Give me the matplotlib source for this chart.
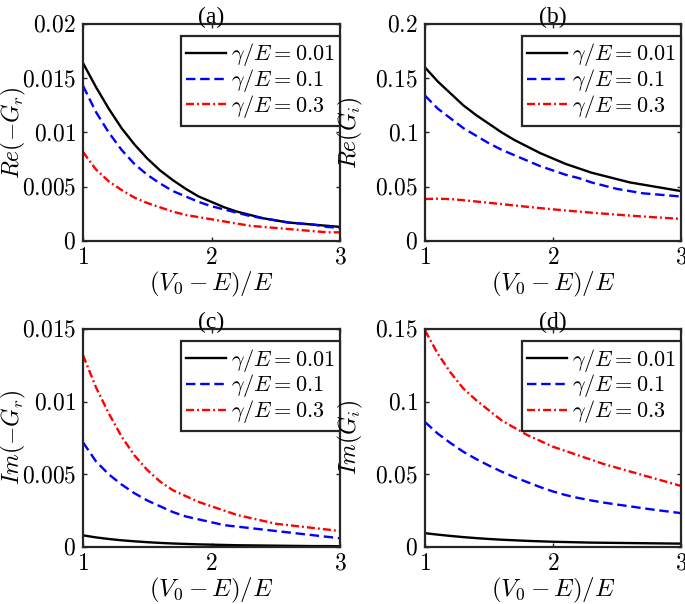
import numpy as np
import matplotlib
matplotlib.use("Agg")
import matplotlib.pyplot as plt

plt.rcParams['mathtext.fontset'] = 'cm'
plt.rcParams['font.family'] = 'Liberation Serif'

# x values: (V0 - E)/E
x = [1.0, 1.1, 1.2, 1.3, 1.4, 1.5, 1.6, 1.7, 1.8, 1.9, 2.0,
     2.1, 2.2, 2.3, 2.4, 2.5, 2.6, 2.7, 2.8, 2.9, 3.0]

labels = [r'$\gamma/E=0.01$', r'$\gamma/E=0.1$', r'$\gamma/E=0.3$']

# (a) Re(-G_r)
a_001 = [0.0164, 0.0142, 0.0122, 0.0104, 0.0089, 0.0076, 0.0065, 0.0056, 0.0048, 0.0041, 0.0036,
         0.0031, 0.0027, 0.0024, 0.0021, 0.0019, 0.0017, 0.0016, 0.0015, 0.0014, 0.0013]
a_01 = [0.0143, 0.0119, 0.0100, 0.0084, 0.0071, 0.0061, 0.0053, 0.0046, 0.0041, 0.0036, 0.0032,
        0.0029, 0.0026, 0.0023, 0.0021, 0.0019, 0.0017, 0.0016, 0.0015, 0.0013, 0.0012]
a_03 = [0.0082, 0.0066, 0.0055, 0.0047, 0.0040, 0.0035, 0.0031, 0.0027, 0.0024, 0.0022, 0.0020,
        0.0018, 0.0016, 0.0014, 0.0013, 0.0012, 0.0011, 0.0010, 0.0009, 0.0008, 0.0008]

# (b) Re(G_i)
b_001 = [0.160, 0.147, 0.136, 0.125, 0.116, 0.108, 0.100, 0.093, 0.087, 0.081, 0.076,
         0.071, 0.067, 0.063, 0.060, 0.057, 0.054, 0.052, 0.050, 0.048, 0.046]
b_01 = [0.134, 0.122, 0.113, 0.104, 0.097, 0.090, 0.084, 0.079, 0.074, 0.069, 0.065,
        0.061, 0.058, 0.054, 0.051, 0.048, 0.046, 0.044, 0.043, 0.042, 0.041]
b_03 = [0.0387, 0.0390, 0.0386, 0.0376, 0.0364, 0.0352, 0.0340, 0.0327, 0.0315, 0.0303, 0.0292,
        0.0281, 0.0271, 0.0261, 0.0252, 0.0243, 0.0234, 0.0226, 0.0218, 0.0211, 0.0204]

# (c) Im(-G_r)
c_001 = [0.00080, 0.00066, 0.00055, 0.00046, 0.00039, 0.00033, 0.00028, 0.00024, 0.00021, 0.00018, 0.00016,
         0.00014, 0.00012, 0.00011, 0.00010, 0.00009, 0.00008, 0.00007, 0.00006, 0.00006, 0.00005]
c_01 = [0.0072, 0.0059, 0.0050, 0.0043, 0.0037, 0.0032, 0.0028, 0.0024, 0.0021, 0.0019, 0.0017,
        0.0015, 0.0014, 0.0013, 0.0012, 0.0011, 0.0010, 0.0009, 0.0008, 0.0007, 0.0006]
c_03 = [0.0132, 0.0110, 0.0092, 0.0076, 0.0063, 0.0053, 0.0045, 0.0039, 0.0035, 0.0031, 0.0028,
        0.0025, 0.0022, 0.0020, 0.0018, 0.0016, 0.0015, 0.0014, 0.0013, 0.0012, 0.0011]

# (d) Im(G_i)
d_001 = [0.0095, 0.0085, 0.0076, 0.0068, 0.0061, 0.0055, 0.0050, 0.0046, 0.0042, 0.0039, 0.0036,
         0.0034, 0.0032, 0.0030, 0.0029, 0.0028, 0.0027, 0.0026, 0.0025, 0.0024, 0.0023]
d_01 = [0.086, 0.078, 0.0715, 0.0655, 0.0605, 0.056, 0.0518, 0.048, 0.0446, 0.0412, 0.0382,
        0.0357, 0.0337, 0.0320, 0.0305, 0.0292, 0.0280, 0.0267, 0.0255, 0.0244, 0.0233]
d_03 = [0.149, 0.133, 0.120, 0.109, 0.101, 0.094, 0.087, 0.082, 0.077, 0.073, 0.069,
        0.066, 0.063, 0.060, 0.057, 0.0545, 0.052, 0.0495, 0.047, 0.0445, 0.042]

panels = [
    ('(a)', r'$Re(-G_r)$', [a_001, a_01, a_03], 0.02,
     ['0', '0.005', '0.01', '0.015', '0.02'], [0, 0.005, 0.01, 0.015, 0.02]),
    ('(b)', r'$Re(G_i)$', [b_001, b_01, b_03], 0.2,
     ['0', '0.05', '0.1', '0.15', '0.2'], [0, 0.05, 0.1, 0.15, 0.2]),
    ('(c)', r'$Im(-G_r)$', [c_001, c_01, c_03], 0.015,
     ['0', '0.005', '0.01', '0.015'], [0, 0.005, 0.01, 0.015]),
    ('(d)', r'$Im(G_i)$', [d_001, d_01, d_03], 0.15,
     ['0', '0.05', '0.1', '0.15'], [0, 0.05, 0.1, 0.15]),
]

positions = [
    [0.1212, 0.6010, 0.3752, 0.3593],
    [0.6204, 0.6010, 0.3737, 0.3593],
    [0.1212, 0.0944, 0.3752, 0.3609],
    [0.6204, 0.0944, 0.3737, 0.3609],
]
ylabel_x = [-0.215, -0.235, -0.215, -0.235]

colors = ['black', 'blue', 'red']
styles = ['-', (0, (4, 2)), (0, (3.4, 1.3, 0.8, 1.3))]
frame_col = '#262626'

fig = plt.figure(figsize=(6.85, 6.04), dpi=100)

for (title, ylab, series, ymax, yticklabels, yticks), pos, ylx in zip(panels, positions, ylabel_x):
    ax = fig.add_axes(pos)
    for ys, c, ls, lab in zip(series, colors, styles, labels):
        ax.plot(x, ys, color=c, linestyle=ls, linewidth=1.7, label=lab)
    ax.set_xlim(1, 3)
    ax.set_ylim(0, ymax)
    ax.set_xticks([1, 2, 3])
    ax.set_xticklabels([r'$1$', r'$2$', r'$3$'])
    ax.set_yticks(yticks)
    ax.set_yticklabels(['$' + t + '$' for t in yticklabels])
    ax.tick_params(direction='in', top=True, right=True, length=3, width=1.0,
                   labelsize=17, colors=frame_col, labelcolor='black', pad=5)
    for sp in ax.spines.values():
        sp.set_linewidth(1.6)
        sp.set_color(frame_col)
    ax.set_xlabel(r'$(V_0-E)/E$', fontsize=18, labelpad=1)
    ax.set_ylabel(ylab, fontsize=17)
    ax.yaxis.set_label_coords(ylx, 0.5)
    ax.set_title(title, fontsize=17, pad=1)
    leg = ax.legend(loc='upper right', bbox_to_anchor=(1.0, 0.945), borderaxespad=0,
                    fontsize=16, frameon=True, fancybox=False, framealpha=1,
                    handlelength=1.8, handletextpad=0.2,
                    borderpad=0.25, labelspacing=-0.05)
    leg.get_frame().set_edgecolor(frame_col)
    leg.get_frame().set_linewidth(1.6)

fig.savefig('out.png', dpi=100)
